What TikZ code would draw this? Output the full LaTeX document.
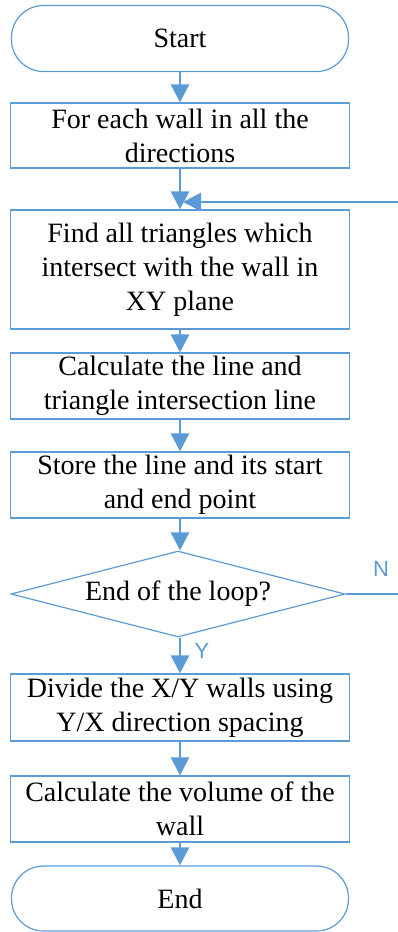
\documentclass[tikz,border=0pt]{standalone}
\usepackage{fontspec}
\setmainfont{Liberation Serif}
\newfontfamily\labelfont{Liberation Sans}
\usetikzlibrary{arrows.meta,shapes.geometric}
\definecolor{flowblue}{HTML}{5B9BD5}
\tikzset{
  x=1pt,y=-1pt,
  boxbase/.style={draw=flowblue,line width=1.2pt,align=center,inner sep=0pt,
    font=\fontsize{28}{34}\selectfont,text=black},
  procbox/.style={boxbase,rectangle,minimum width=339pt},
  termbox/.style={boxbase,rectangle,rounded corners=32pt,minimum width=337pt,minimum height=66pt},
  decbox/.style={boxbase,diamond,aspect=3.88,minimum width=334pt,minimum height=86pt},
  flowarrow/.style={draw=flowblue,line width=2.8pt,-{Triangle[length=18pt,width=18pt]}},
  loopline/.style={draw=flowblue,line width=2.2pt},
  branchlabel/.style={text=flowblue,font=\labelfont\fontsize{22}{26}\selectfont,inner sep=0pt}
}
\begin{document}
\begin{tikzpicture}
\useasboundingbox (0,0) rectangle (398,932);
\node[termbox] (start) at (180,38.5) {Start};
\node[procbox,minimum height=65pt] (b1) at (180,135.5) {For each wall in all the\\directions};
\node[procbox,minimum height=119pt] (b2) at (180,269.5) {Find all triangles which\\intersect with the wall in\\XY plane};
\node[procbox,minimum height=66pt] (b3) at (180,386) {Calculate the line and\\triangle intersection line};
\node[procbox,minimum height=66pt] (b4) at (180,485) {Store the line and its start\\and end point};
\node[decbox] (dec) at (178,594) {End of the loop?};
\node[procbox,minimum height=67pt] (b5) at (180,707.5) {Divide the X/Y walls using\\Y/X direction spacing};
\node[procbox,minimum height=66pt] (b6) at (180,809) {Calculate the volume of the\\wall};
\node[termbox,minimum height=65pt] (end) at (180,898.5) {End};
\coordinate (loopin) at (183,202);
\coordinate (cornerB) at (401,594);
\coordinate (cornerT) at (401,202);
\draw[flowarrow] (start.south) -- (b1.north);
\draw[flowarrow] (b1.south) -- (b2.north);
\draw[flowarrow] (b2.south) -- (b3.north);
\draw[flowarrow] (b3.south) -- (b4.north);
\draw[flowarrow] (b4.south) -- (dec.north -| b4.south);
\draw[flowarrow] (dec.south -| b5.north) -- (b5.north);
\draw[flowarrow] (b5.south) -- (b6.north);
\draw[flowarrow] (b6.south) -- (end.north);
\draw[loopline] (dec.east) -- (cornerB) -- (cornerT);
\draw[loopline,-{Triangle[length=18pt,width=18pt]}] (cornerT) -- (loopin);
\node[branchlabel] (ylab) at (202,651) {Y};
\node[branchlabel] (nlab) at (381,569) {N};
\end{tikzpicture}
\end{document}
